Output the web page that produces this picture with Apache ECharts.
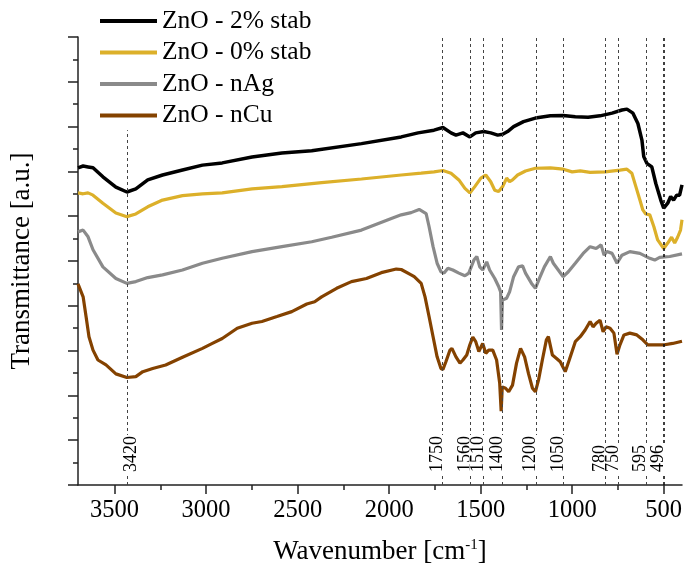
<!DOCTYPE html>
<html><head><meta charset="utf-8">
<script src="https://cdn.jsdelivr.net/npm/echarts@6/dist/echarts.min.js"></script>
<style>html,body{margin:0;padding:0;background:#fff}#c{width:685px;height:578px}</style>
</head><body><div id="c"></div>
<script>
const seriesNames = ['ZnO - 2% stab', 'ZnO - 0% stab', 'ZnO - nAg', 'ZnO - nCu'];
const seriesColors = ['#000000', '#dcb02a', '#8a8a8a', '#844200'];

// [wavenumber, transmittance (a.u.)]
const stab2 = [[3700,7.08],[3672,7.12],[3645,7.10],[3618,7.08],[3564,6.88],[3493,6.65],[3433,6.54],[3384,6.61],[3319,6.81],[3238,6.92],[3129,7.03],[3020,7.14],[2912,7.19],[2749,7.32],[2586,7.41],[2423,7.46],[2151,7.62],[1934,7.77],[1842,7.86],[1755,7.92],[1706,7.98],[1662,7.86],[1635,7.81],[1597,7.86],[1559,7.77],[1527,7.86],[1483,7.89],[1445,7.86],[1407,7.81],[1380,7.83],[1353,7.89],[1320,8.00],[1266,8.11],[1201,8.19],[1119,8.24],[1049,8.25],[983,8.22],[913,8.21],[848,8.24],[782,8.30],[728,8.37],[701,8.39],[668,8.30],[641,8.07],[619,7.70],[609,7.33],[592,7.18],[565,7.10],[543,6.73],[516,6.36],[500,6.18],[478,6.29],[462,6.44],[446,6.36],[429,6.47],[413,6.47],[400,6.70]];
const stab0 = [[3700,6.52],[3672,6.50],[3645,6.52],[3618,6.47],[3564,6.29],[3493,6.07],[3433,5.99],[3384,6.05],[3319,6.21],[3238,6.36],[3129,6.46],[3020,6.50],[2912,6.52],[2749,6.61],[2586,6.66],[2369,6.75],[2151,6.83],[1934,6.92],[1825,6.96],[1755,6.99],[1706,7.02],[1662,6.96],[1619,6.81],[1586,6.62],[1559,6.52],[1532,6.66],[1499,6.85],[1472,6.92],[1445,6.77],[1423,6.58],[1402,6.55],[1380,6.66],[1358,6.85],[1342,6.77],[1326,6.81],[1298,6.92],[1255,7.01],[1201,7.07],[1119,7.08],[1049,7.05],[1000,6.99],[956,7.01],[902,6.98],[820,6.99],[739,7.03],[701,7.05],[674,6.96],[652,6.66],[630,6.36],[614,6.14],[598,6.05],[576,6.03],[554,5.77],[533,5.47],[500,5.28],[478,5.40],[457,5.53],[440,5.40],[424,5.53],[408,5.69],[400,5.92]];
const nAg = [[3700,5.65],[3672,5.69],[3645,5.54],[3618,5.25],[3564,4.87],[3493,4.61],[3433,4.50],[3384,4.54],[3319,4.63],[3238,4.69],[3129,4.80],[3020,4.95],[2912,5.06],[2749,5.21],[2586,5.32],[2423,5.43],[2314,5.53],[2151,5.69],[1988,5.95],[1934,6.03],[1880,6.08],[1836,6.15],[1798,6.06],[1782,5.77],[1760,5.32],[1738,4.95],[1717,4.76],[1700,4.73],[1679,4.84],[1652,4.80],[1619,4.73],[1586,4.67],[1565,4.73],[1537,5.02],[1521,5.10],[1505,4.87],[1489,4.80],[1467,4.98],[1451,4.80],[1423,4.61],[1402,4.43],[1391,4.31],[1386,3.46],[1381,4.13],[1358,4.17],[1342,4.31],[1320,4.65],[1293,4.87],[1271,4.89],[1255,4.73],[1222,4.50],[1201,4.39],[1179,4.61],[1152,4.87],[1119,5.10],[1103,4.95],[1076,4.80],[1049,4.65],[1021,4.76],[983,4.95],[940,5.17],[902,5.32],[869,5.28],[842,5.36],[826,5.13],[810,5.21],[782,5.17],[755,4.95],[728,5.13],[685,5.21],[630,5.17],[576,5.06],[549,5.02],[522,5.08],[467,5.10],[400,5.16]];
const nCu = [[3700,4.49],[3672,4.20],[3656,3.76],[3640,3.31],[3618,3.01],[3591,2.79],[3547,2.68],[3493,2.48],[3433,2.40],[3384,2.42],[3346,2.53],[3292,2.60],[3221,2.68],[3129,2.85],[3020,3.05],[2966,3.16],[2912,3.27],[2830,3.50],[2749,3.61],[2695,3.65],[2613,3.76],[2532,3.87],[2450,4.04],[2407,4.09],[2369,4.20],[2287,4.39],[2206,4.54],[2124,4.61],[2043,4.74],[1961,4.82],[1934,4.81],[1880,4.69],[1863,4.65],[1825,4.50],[1804,4.20],[1782,3.76],[1760,3.31],[1738,2.86],[1717,2.60],[1706,2.58],[1690,2.75],[1668,3.01],[1657,3.05],[1635,2.86],[1613,2.72],[1597,2.79],[1576,2.90],[1559,3.13],[1543,3.30],[1527,3.20],[1510,2.98],[1489,3.16],[1472,2.94],[1456,3.01],[1434,3.01],[1413,2.79],[1396,2.27],[1388,1.65],[1382,2.19],[1364,2.16],[1347,2.08],[1326,2.23],[1304,2.72],[1282,3.05],[1260,2.86],[1239,2.49],[1217,2.16],[1201,2.08],[1184,2.34],[1163,2.79],[1141,3.24],[1130,3.31],[1108,2.90],[1087,2.83],[1065,2.75],[1038,2.53],[1016,2.79],[983,3.20],[956,3.31],[929,3.46],[902,3.65],[886,3.53],[869,3.61],[848,3.68],[831,3.42],[815,3.53],[793,3.50],[772,3.39],[755,2.92],[739,3.13],[717,3.35],[685,3.39],[647,3.35],[614,3.24],[587,3.13],[549,3.13],[495,3.13],[451,3.16],[400,3.21]];

// peak marker lines: drawn position, label text, top of the line
const peakPos = [3433, 1709, 1559, 1485, 1380, 1199, 1050, 820, 748, 598, 502];
const peakLabels = ['3420', '1750', '1560', '1510', '1400', '1200', '1050', '780', '750', '595', '496'];
const peakTop = [7.92, 10, 10, 10, 10, 10, 10, 10, 10, 10, 10];

const xMajorTicks = [500, 1000, 1500, 2000, 2500, 3000, 3500];
const xMinorTicks = [750, 1250, 1750, 2250, 2750, 3250];

const FONT = 'Liberation Serif';
const AX = '#222';

const curves = [stab2, stab0, nAg, nCu];
const series = curves.map((d, i) => ({
  name: seriesNames[i], type: 'line', data: d, showSymbol: false, symbol: 'none',
  z: 3, lineStyle: { color: seriesColors[i], width: i === 0 ? 3.5 : 3.2 },
  itemStyle: { color: seriesColors[i] }
}));

const markData = peakPos.map((p, i) => [
  {
    name: peakLabels[i], coord: [p, 0],
    label: i === 0 ? { position: 'insideStartBottom', distance: [12, -5] } : {},
    lineStyle: i === peakPos.length - 1 ? { width: 1.6, color: '#111' } : {}
  },
  { coord: [p, peakTop[i]] }
]);

series.push({
  name: 'peaks', type: 'line', data: [], z: 1, silent: true,
  markLine: {
    silent: true, symbol: 'none', animation: false,
    lineStyle: { type: [3, 3], color: '#444', width: 1 },
    label: {
      show: true, formatter: '{b}', position: 'insideStartTop', distance: [12, -4],
      fontFamily: FONT, fontSize: 18, color: '#000', backgroundColor: '#fff', padding: [0, 1]
    },
    data: markData
  }
});

const chart = echarts.init(document.getElementById('c'), null, { renderer: 'canvas' });
chart.setOption({
  animation: false,
  backgroundColor: '#fff',
  grid: { left: 75, right: 3, top: 37, bottom: 93, containLabel: false },
  legend: {
    data: seriesNames, orient: 'vertical', left: 100, top: 8, padding: 0,
    icon: 'rect', itemWidth: 57, itemHeight: 4, itemGap: 5.5,
    textStyle: { fontFamily: FONT, fontSize: 25.5, lineHeight: 25, color: '#000' }
  },
  xAxis: [{
    type: 'value', inverse: true, min: 400, max: 3700, position: 'bottom',
    axisLine: { show: true, onZero: false, lineStyle: { color: AX, width: 1.5 } },
    axisTick: { show: true, length: 9, customValues: xMajorTicks, lineStyle: { color: AX, width: 1.5 } },
    axisLabel: { customValues: xMajorTicks, formatter: v => String(v), fontFamily: FONT, fontSize: 24.5, color: '#000', margin: 13 },
    splitLine: { show: false },
    name: 'Wavenumber [cm{sup|-1}]', nameLocation: 'middle', nameGap: 53,
    nameTextStyle: { fontFamily: FONT, fontSize: 27, color: '#000',
      rich: { sup: { fontFamily: FONT, fontSize: 15, color: '#000', verticalAlign: 'top', padding: [0, 0, 10, 0] } } }
  }, {
    type: 'value', inverse: true, min: 400, max: 3700, position: 'bottom',
    axisLine: { show: false, onZero: false },
    axisTick: { show: true, length: 5, customValues: xMinorTicks, lineStyle: { color: AX, width: 1.5 } },
    axisLabel: { show: false, customValues: xMinorTicks },
    splitLine: { show: false }
  }],
  yAxis: {
    type: 'value', min: 0, max: 10, interval: 1,
    axisLine: { show: true, lineStyle: { color: AX, width: 1.5 } },
    axisTick: { show: true, length: 10, lineStyle: { color: AX, width: 1.5 } },
    minorTick: { show: true, splitNumber: 2, length: 5, lineStyle: { color: AX, width: 1.5 } },
    axisLabel: { show: false },
    splitLine: { show: false }, minorSplitLine: { show: false },
    name: 'Transmittance [a.u.]', nameLocation: 'middle', nameGap: 43, nameRotate: 90,
    nameTextStyle: { fontFamily: FONT, fontSize: 27, color: '#000' }
  },
  series: series
});
</script>
</body></html>
